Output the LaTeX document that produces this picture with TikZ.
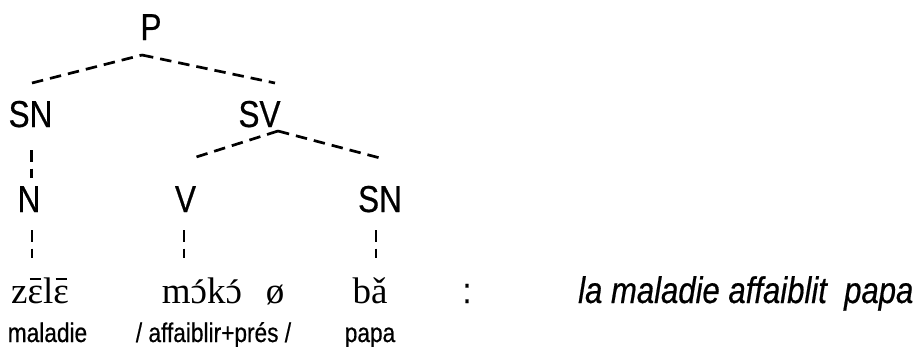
\documentclass[tikz,border=0pt]{standalone}
\usepackage{fontspec}
\setmainfont[FakeStretch=0.84,FakeBold=0.5]{Liberation Sans}
\newfontfamily\ipafont{Liberation Serif}
\usetikzlibrary{calc}
\newcommand\overmark[2]{{\ooalign{#1\cr\hidewidth#2\hidewidth\cr}}}
\newcommand\macronover[1]{\overmark{#1}{\rule[23pt]{11pt}{1.6pt}}}
\tikzset{
  cat/.style={inner sep=0pt, anchor=base, font=\fontsize{37.5}{40}\selectfont},
  ipa/.style={inner sep=0pt, anchor=base, font=\ipafont\fontsize{37}{39}\selectfont},
  gloss/.style={inner sep=0pt, anchor=base, font=\fontsize{27}{29}\selectfont},
  trans/.style={inner sep=0pt, anchor=base west, font=\itshape\fontsize{37}{39}\selectfont},
  branch/.style={line width=2.7pt, dash pattern=on 11.5pt off 7pt},
}
\begin{document}
\begin{tikzpicture}[x=1pt,y=-1pt]
\useasboundingbox (0,0) rectangle (913,346);
% category labels
\node[cat] (P) at (151,40) {P};
\node[cat] (SN1) at (30.5,127) {SN};
\node[cat] (SV) at (259.5,127) {SV};
\node[cat] (N) at (29,212) {N};
\node[cat] (V) at (185.5,212) {V};
\node[cat] (SN2) at (380,212) {SN};
% words
\node[ipa] (zele) at (40,303) {z\macronover{ɛ}l\macronover{ɛ}};
\node[ipa] (moko) at (202,303) {m\overmark{ɔ}{\raisebox{-2pt}{´}}k\overmark{ɔ}{\raisebox{-2pt}{´}}};
\node[ipa] (zero) at (275,303) {ø};
\node[ipa] (ba) at (370,303) {bǎ};
\node[inner sep=0pt, anchor=base, font=\fontsize{36}{38}\selectfont] (colon) at (467,303) {:};
\node[trans] (tr) at (578,303) {la maladie affaiblit\ \ papa};
% glosses
\node[gloss] (g1) at (47.5,342) {maladie};
\node[gloss] (g2) at (213.5,342) {/ affaiblir+prés /};
\node[gloss] (g3) at (370,342) {papa};
% branches
\draw[branch] ($(SN1.base)+(1.5,-44)$) -- ($(P.base)+(-9,15)$);
\draw[branch] ($(P.base)+(-9,15)$) -- ($(SV.base)+(15.5,-44)$);
\draw[branch] ($(SV.base)+(18.5,4)$) -- ($(V.base)+(4.5,-53)$);
\draw[branch] ($(SV.base)+(18.5,4)$) -- ($(SN2.base)+(0,-54)$);
\draw[branch] ($(SN1.base)+(1.2,23)$) -- ($(N.base)+(2.7,-34)$);
\draw[branch] ($(N.base)+(3,18)$) -- ($(zele.base)+(-8,-45)$);
\draw[branch] ($(V.base)+(-1.5,18)$) -- ($(moko.base)+(-18,-45)$);
\draw[branch] ($(SN2.base)+(-4,18)$) -- ($(ba.base)+(6,-45)$);
\end{tikzpicture}
\end{document}
